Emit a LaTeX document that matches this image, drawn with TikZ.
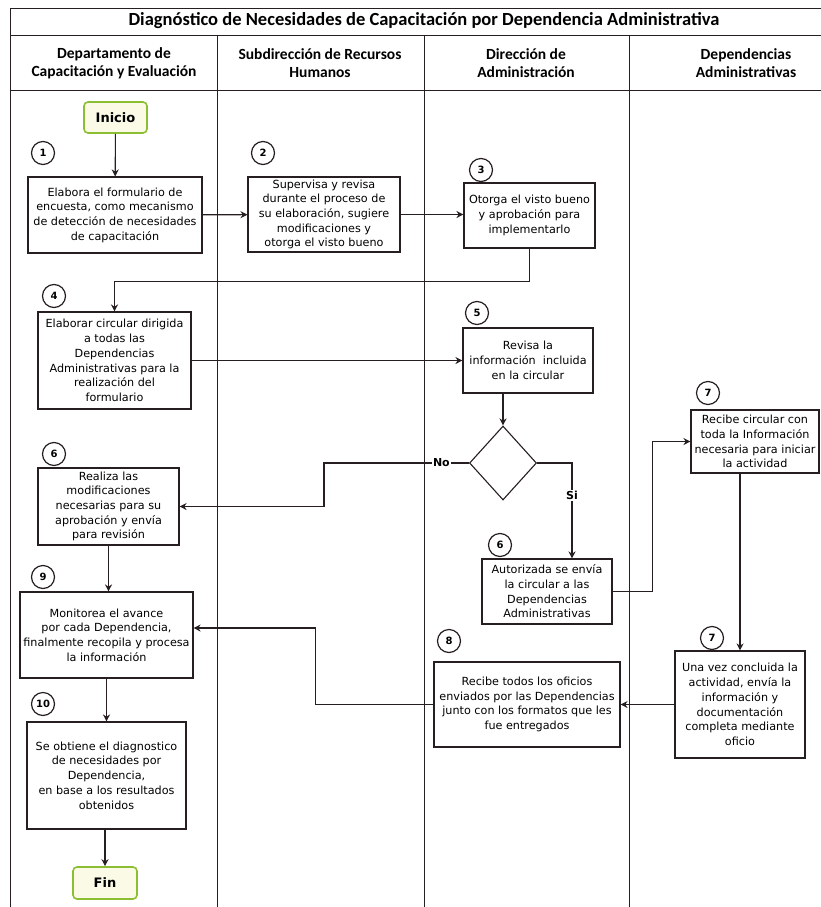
\documentclass[tikz,border=0pt]{standalone}
\usepackage{fontspec}
\setmainfont{DejaVu Sans}
\newfontfamily\titulofont{Carlito}
\usetikzlibrary{arrows.meta,shapes.geometric}

\definecolor{linea}{RGB}{38,30,32}
\definecolor{verde}{RGB}{140,190,50}
\definecolor{crema}{RGB}{250,250,230}

\tikzset{
  caja/.style={draw=linea,line width=1.1pt,fill=white,align=center,inner sep=2pt,
    font=\fontsize{11.2}{14.7}\selectfont},
  paso/.style={draw=linea,line width=1.2pt,circle,minimum size=23pt,inner sep=0pt,
    font=\bfseries\fontsize{10}{10}\selectfont},
  terminal/.style={draw=verde,line width=1.6pt,rounded corners=4pt,fill=crema,
    minimum width=63pt,minimum height=31pt,font=\bfseries\fontsize{13}{13}\selectfont},
  flecha/.style={draw=linea,line width=1.1pt,-{Stealth[length=7pt,width=7pt]}},
  etiqueta/.style={fill=white,inner sep=1.5pt,font=\bfseries\fontsize{11}{11}\selectfont},
  encabezado/.style={align=center,font=\titulofont\bfseries\fontsize{15.5}{18}\selectfont},
}

\begin{document}
\begin{tikzpicture}[x=1pt,y=-1pt]
    \useasboundingbox (0,0) rectangle (821,907);

    % marco y carriles
    \draw[linea,line width=0.8pt] (10,8) rectangle (870,930);
    \draw[linea,line width=0.8pt] (10,35) -- (870,35);
    \draw[linea,line width=0.8pt] (10,90) -- (870,90);
    \foreach \x in {217,424,629}{
      \draw[linea,line width=0.8pt] (\x,35) -- (\x,930);
    }
    \node[font=\titulofont\bfseries\fontsize{18.5}{18.5}\selectfont] (titulo) at (424,21)
      {Diagnóstico de Necesidades de Capacitación por Dependencia Administrativa};
    \node[encabezado] (enc1) at (114,63) {Departamento de\\Capacitación y Evaluación};
    \node[encabezado] (enc2) at (320,63) {Subdirección de Recursos\\Humanos};
    \node[encabezado] (enc3) at (526,63) {Dirección de\\Administración};
    \node[encabezado] (enc4) at (746,63) {Dependencias\\Administrativas};

    % Departamento de Capacitación y Evaluación
    \node[terminal] (inicio) at (115.5,117.5) {Inicio};
    \node[paso] (n1) at (43,153) {1};
    \node[caja,minimum width=174pt,minimum height=76pt] (b1) at (115,215)
      {Elabora el formulario de\\encuesta, como mecanismo\\de detección de necesidades\\de capacitación};
    \node[paso] (n4) at (54,296) {4};
    \node[caja,minimum width=153pt,minimum height=97pt] (b4) at (114.5,360.5)
      {Elaborar circular dirigida\\a todas las\\Dependencias\\Administrativas para la\\realización del\\formulario};
    \node[paso] (n6a) at (54,454) {6};
    \node[caja,minimum width=141pt,minimum height=77pt] (b6a) at (108.5,506.5)
      {Realiza las\\modificaciones\\necesarias para su\\aprobación y envía\\para revisión};
    \node[paso] (n9) at (43,577) {9};
    \node[caja,minimum width=173pt,minimum height=86pt] (b9) at (106.5,635)
      {Monitorea el avance\\por cada Dependencia,\\finalmente recopila y procesa\\la información};
    \node[paso] (n10) at (43,704) {10};
    \node[caja,minimum width=159pt,minimum height=107pt] (b10) at (106.5,775.5)
      {Se obtiene el diagnostico\\de necesidades por\\Dependencia,\\en base a los resultados\\obtenidos};
    \node[terminal,minimum width=64pt,minimum height=32pt] (fin) at (105,883) {Fin};

    % Subdirección de Recursos Humanos
    \node[paso] (n2) at (263,153) {2};
    \node[caja,minimum width=152pt,minimum height=75pt] (b2) at (324,214.5)
      {Supervisa y revisa\\durante el proceso de\\su elaboración, sugiere\\modificaciones y\\otorga el visto bueno};

    % Dirección de Administración
    \node[paso] (n3) at (481,170) {3};
    \node[caja,minimum width=131pt,minimum height=65pt] (b3) at (529.5,215.5)
      {Otorga el visto bueno\\y aprobación para\\implementarlo};
    \node[paso] (n5) at (477,313) {5};
    \node[caja,minimum width=130pt,minimum height=65pt] (b5) at (528,360.5)
      {Revisa la\\información~ incluida\\en la circular};
    \node[draw=linea,line width=1.1pt,diamond,minimum width=67pt,minimum height=74pt,inner sep=0pt]
      (rombo) at (503,463) {};
    \node[paso] (n6b) at (500,545) {6};
    \node[caja,minimum width=130pt,minimum height=65pt] (b6b) at (547,591.5)
      {Autorizada se envía\\la circular a las\\Dependencias\\Administrativas};
    \node[paso] (n8) at (449,641) {8};
    \node[caja,minimum width=186pt,minimum height=85pt] (b8) at (527,704.5)
      {Recibe todos los oficios\\enviados por las Dependencias\\junto con los formatos que les\\fue entregados};

    % Dependencias Administrativas
    \node[paso] (n7a) at (708,393) {7};
    \node[caja,minimum width=128pt,minimum height=63pt] (b7a) at (755,441.5)
      {Recibe circular con\\toda la Información\\necesaria para iniciar\\la actividad};
    \node[paso] (n7b) at (712,638) {7};
    \node[caja,minimum width=130pt,minimum height=107pt] (b7b) at (740,704.5)
      {Una vez concluida la\\actividad, envía la\\información y\\documentación\\completa mediante\\oficio};

    % flujo
    \draw[flecha] (inicio) -- (b1);
    \draw[flecha] (b1) -- (b2);
    \draw[flecha] (b2.east) -- (b2.east -| b3.west);
    \draw[flecha] (b3.south) -- ++(0,33) -| (b4.north);
    \draw[flecha] (b4) -- (b5);
    \draw[flecha] (rombo.north |- b5.south) -- (rombo.north);
    \draw[flecha] (rombo.west) -- node[pos=0.19,etiqueta]{No} ++(-145,0) |- (b6a.east);
    \draw[flecha] (rombo.east) -| node[pos=0.67,etiqueta]{Si} ([xshift=25pt]b6b.north);
    \draw[flecha] (b6b.east) -- ++(40,0) |- (b7a.west);
    \draw[flecha] (b7b.north |- b7a.south) -- (b7b.north);
    \draw[flecha] (b7b) -- (b8);
    \draw[flecha] (b8.west) -- ++(-118,0) |- ([yshift=7pt]b9.east);
    \draw[flecha] (b6a.south) -- (b6a.south |- b9.north);
    \draw[flecha] (b9) -- (b10);
    \draw[flecha] (fin.north |- b10.south) -- (fin.north);
\end{tikzpicture}
\end{document}
